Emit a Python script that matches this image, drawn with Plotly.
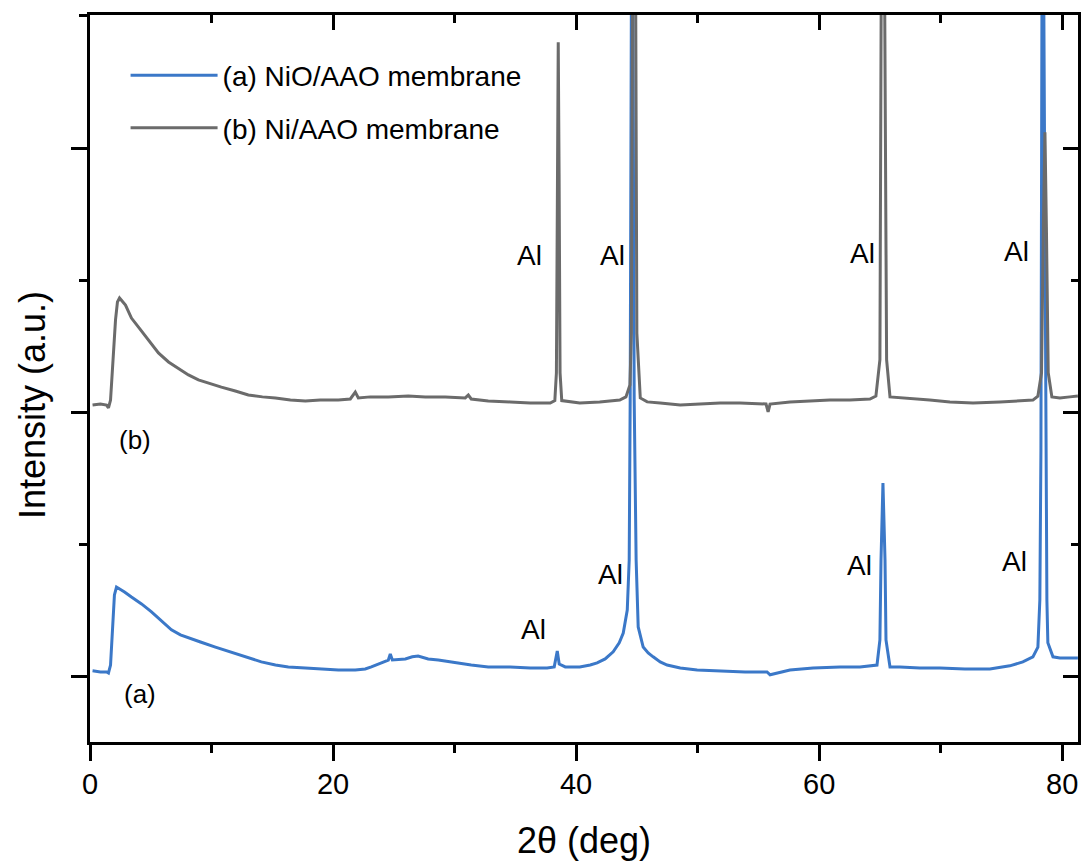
import plotly.graph_objects as go

# ---- data (2theta in deg, intensity in a.u.) ----
x_a = [0.21, 0.86, 1.36, 1.52, 1.69, 1.85, 2.01, 2.18, 2.34, 2.84, 3.41, 4.24, 5.06, 5.88, 6.7,
       7.44, 8.1, 9.09, 10.32, 11.31, 12.21, 13.2, 14.1, 15.26, 16.32, 17.72, 19.04, 20.44, 21.83,
       22.65, 23.15, 23.89, 24.55, 24.71, 24.88, 25.95, 26.52, 27.0, 27.83, 28.66, 30.06, 31.37,
       32.77, 34.58, 36.23, 37.62, 38.2, 38.45, 38.61, 39.11, 40.3, 41.16, 41.73, 42.39, 43.05,
       43.55, 43.88, 44.21, 44.37, 44.45, 44.61, 44.78, 44.94, 45.11, 45.52, 45.93, 46.34, 46.92,
       47.49, 48.57, 49.96, 51.85, 53.9, 55.71, 55.96, 57.6, 59.5, 61.72, 63.36, 64.76, 65.0,
       65.09, 65.25, 65.42, 65.5, 65.83, 66.65, 68.29, 69.94, 71.99, 74.05, 75.69, 76.76, 77.59,
       78.0, 78.16, 78.25, 78.38, 78.66, 78.74, 78.82, 79.24, 79.81, 80.63, 81.29]
y_a = [23, 19, 19, 15, 45, 178, 310, 340, 336, 321, 302, 276, 246, 212, 178,
       159, 147, 132, 113, 98, 83, 68, 57, 45, 38, 34, 30, 26, 26,
       30, 38, 53, 64, 87, 64, 68, 76, 79, 68, 64, 53, 45,
       38, 38, 34, 34, 38, 98, 49, 38, 38, 45, 53, 68, 95,
       129, 166, 253, 442, 1047, 3500, 1047, 442, 189, 113, 91, 76, 57,
       45, 34, 26, 23, 19, 19, 8, 26, 34, 38, 38, 45, 140,
       442, 733, 442, 140, 38, 38, 34, 34, 30, 30, 42, 57, 76,
       113, 291, 858, 3500, 858, 291, 129, 76, 72, 72, 72]

x_b = [0.21, 0.86, 1.36, 1.52, 1.69, 1.93, 2.10, 2.26, 2.43, 2.92, 3.41, 3.99, 4.81, 5.63, 6.46,
       7.28, 8.10, 8.92, 9.91, 10.81, 11.96, 13.03, 14.19, 15.26, 16.49, 17.72, 18.95, 20.43,
       21.42, 21.83, 22.08, 23.07, 24.55, 26.19, 27.59, 29.23, 30.88, 31.13, 31.37, 32.77, 34.58,
       36.23, 37.87, 38.25, 38.38, 38.46, 38.53, 38.60, 38.68, 38.82, 40.3, 41.94, 43.59, 44.1,
       44.43, 44.55, 44.65, 44.78, 44.9, 45.0, 45.28, 45.85, 46.92, 48.57, 50.2, 51.85, 53.49,
       55.14, 55.63, 55.8, 55.96, 57.6, 59.25, 60.89, 62.53, 64.18, 64.67, 65.0, 65.1, 65.25,
       65.4, 65.55, 65.83, 67.22, 69.1, 70.76, 72.66, 74.88, 76.52, 77.59, 78.0, 78.3, 78.45,
       78.58, 78.7, 78.85, 79.15, 79.81, 80.63, 81.29]
y_b = [1028, 1032, 1028, 1017, 1047, 1236, 1350, 1418, 1433, 1406, 1357, 1323, 1274, 1225, 1191,
       1168, 1142, 1123, 1108, 1096, 1081, 1066, 1059, 1055, 1047, 1043, 1047, 1047,
       1051, 1077, 1055, 1059, 1059, 1062, 1059, 1059, 1055, 1066, 1051, 1043, 1040,
       1036, 1036, 1045, 1150, 1900, 2400, 1900, 1150, 1045, 1036, 1040, 1047, 1059,
       1104, 1300, 2600, 4500, 2600, 1300, 1055, 1040, 1036, 1028, 1032, 1036, 1036,
       1032, 1032, 1002, 1032, 1040, 1043, 1047, 1047, 1051, 1062, 1200, 2500, 4500,
       2500, 1200, 1059, 1055, 1047, 1040, 1036, 1040, 1043, 1047, 1062, 1150, 1700,
       2060, 1700, 1150, 1059, 1055, 1059, 1062]

names = ["(a) NiO/AAO membrane", "(b) Ni/AAO membrane"]

# peak labels
al_x = [36.2, 42.97, 63.53, 76.27, 36.47, 42.8, 63.36, 76.1]
al_y = [1595, 1595, 1603, 1607, 178, 386, 423, 435]
curve_lbl = ["(b)", "(a)"]
curve_lbl_x = [3.74, 4.15]
curve_lbl_y = [896, -64]

x_range = [0, 81.3]
y_range = [-246, 2503]

BLUE = "#3B78C8"
GRAY = "#6B6B6B"
FONT = "Liberation Sans, Arial, sans-serif"

fig = go.Figure()
fig.add_trace(go.Scatter(x=x_a, y=y_a, mode="lines", name=names[0], legendgroup="a",
                         line=dict(color=BLUE, width=3), xaxis="x", yaxis="y"))
fig.add_trace(go.Scatter(x=x_b, y=y_b, mode="lines", name=names[1], legendgroup="b",
                         line=dict(color=GRAY, width=3), xaxis="x2", yaxis="y2"))

for xx, yy in zip(al_x, al_y):
    fig.add_annotation(x=xx, y=yy, text="Al", showarrow=False, xref="x", yref="y",
                       font=dict(size=28, color="black", family=FONT),
                       xanchor="center", yanchor="middle")
for t, xx, yy in zip(curve_lbl, curve_lbl_x, curve_lbl_y):
    fig.add_annotation(x=xx, y=yy, text=t, showarrow=False, xref="x", yref="y",
                       font=dict(size=26, color="black", family=FONT),
                       xanchor="center", yanchor="middle")

# y-axis title (placed as rotated text to match the reference position)
fig.add_annotation(x=-58 / 988.0, y=(742 - 405) / 727.0, xref="paper", yref="paper",
                   text="Intensity (a.u.)", textangle=-90, showarrow=False,
                   font=dict(size=36, color="black", family=FONT),
                   xanchor="center", yanchor="middle")

axis_common = dict(showline=True, linecolor="black", linewidth=2.5, showgrid=False,
                   zeroline=False, tickcolor="black", tickwidth=2.5)

fig.update_layout(
    width=1087, height=865,
    margin=dict(l=90, r=9, t=15, b=123, autoexpand=False),
    paper_bgcolor="white", plot_bgcolor="white",
    font=dict(family=FONT, color="black"),
    xaxis=dict(range=x_range, tick0=0, dtick=20, ticks="outside", ticklen=16,
               tickfont=dict(size=29), ticklabelstandoff=-2,
               minor=dict(dtick=10, ticks="outside", ticklen=8, tickwidth=2.5, tickcolor="black"),
               title=dict(text="2θ (deg)", font=dict(size=36), standoff=30),
               anchor="y", **axis_common),
    yaxis=dict(range=y_range, tick0=0, dtick=1000, ticks="outside", ticklen=16,
               showticklabels=False,
               minor=dict(dtick=500, ticks="outside", ticklen=8, tickwidth=2.5, tickcolor="black"),
               anchor="x", **axis_common),
    xaxis2=dict(range=x_range, matches="x", overlaying="x", side="top", anchor="y2",
                tick0=0, dtick=20, ticks="inside", ticklen=15, showticklabels=False,
                minor=dict(dtick=10, ticks="inside", ticklen=8, tickwidth=2.5, tickcolor="black"),
                **axis_common),
    yaxis2=dict(range=y_range, matches="y", overlaying="y", side="right", anchor="x2",
                tick0=0, dtick=1000, ticks="inside", ticklen=15, showticklabels=False,
                minor=dict(dtick=500, ticks="inside", ticklen=7, tickwidth=2.5, tickcolor="black"),
                **axis_common),
    legend=dict(x=0.036, y=0.951, xanchor="left", yanchor="top", bgcolor="rgba(0,0,0,0)",
                font=dict(size=28, family=FONT), itemwidth=87, traceorder="grouped",
                tracegroupgap=13),
    showlegend=True,
)

fig.write_html("out.html", config={"displayModeBar": False},
               post_script="document.body.style.margin='0';"
                           "document.body.style.overflow='hidden';")
